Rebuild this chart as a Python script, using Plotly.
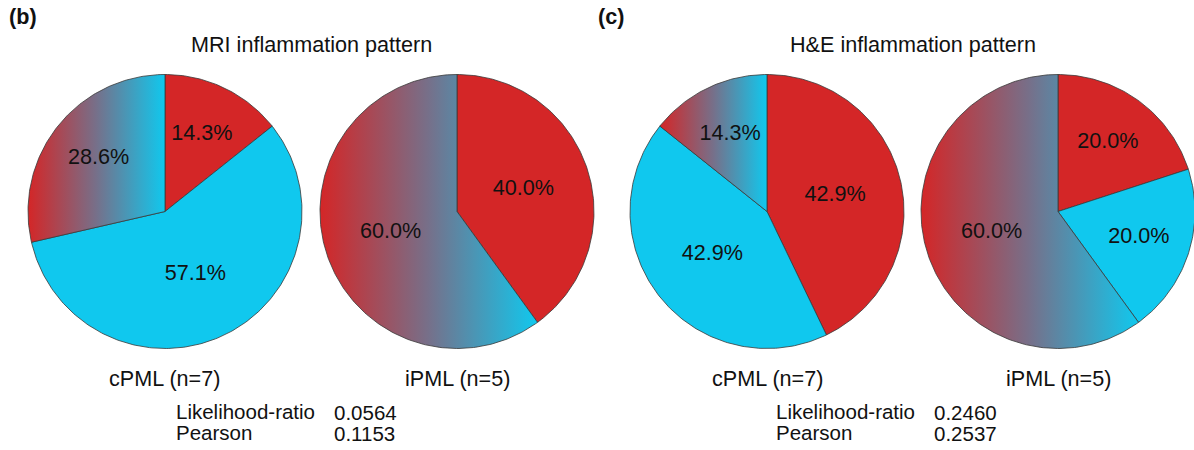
import numpy as np
import plotly.graph_objects as go

# Share of each inflammation pattern (%), per group: cPML, iPML
groups = ["cPML (n=7)", "iPML (n=5)"]
mri_focal = [14.3, 40.0]
mri_diffuse = [57.1, 0.0]
mri_mixed = [28.6, 60.0]
he_focal = [42.9, 20.0]
he_diffuse = [42.9, 20.0]
he_mixed = [14.3, 60.0]

panel_titles = ["MRI inflammation pattern", "H&E inflammation pattern"]
panel_tags = ["(b)", "(c)"]
stat_names = ["Likelihood-ratio", "Pearson"]
mri_pvalues = ["0.0564", "0.1153"]
he_pvalues = ["0.2460", "0.2537"]

RED = "#D42627"
CYAN = "#10C8EE"
EDGE = "#3a3a3a"
FONT = "Arial, Liberation Sans, sans-serif"
FS = 21.6

W, H = 1194, 450
R_PX = 137            # pie radius in pixels
PAD = 1.03            # axis half-range in radius units
CY_PX = 211.5
pie_centers_px = [165, 457, 767, 1058]

fig = go.Figure()


def slice_xy(a0, a1):
    """Polygon of a pie wedge, angles in degrees clockwise from 12 o'clock."""
    n = max(int(abs(a1 - a0) / 1.0), 2)
    t = np.radians(np.linspace(a0, a1, n))
    xs = np.concatenate([[0.0], np.sin(t), [0.0]])
    ys = np.concatenate([[0.0], np.cos(t), [0.0]])
    return xs, ys


pies = [
    (mri_focal[0], mri_diffuse[0], mri_mixed[0]),
    (mri_focal[1], mri_diffuse[1], mri_mixed[1]),
    (he_focal[0], he_diffuse[0], he_mixed[0]),
    (he_focal[1], he_diffuse[1], he_mixed[1]),
]

for i, (vals, cx) in enumerate(zip(pies, pie_centers_px)):
    k = i + 1
    xa = "x" if k == 1 else f"x{k}"
    ya = "y" if k == 1 else f"y{k}"
    total = sum(vals)
    start = 0.0
    lab_x, lab_y, lab_t = [], [], []
    for j, v in enumerate(vals):
        if v <= 0:
            continue
        span = 360.0 * v / total
        xs, ys = slice_xy(start, start + span)
        tr = dict(x=xs, y=ys, mode="lines", fill="toself",
                  line=dict(color=EDGE, width=0.8),
                  hoverinfo="skip", showlegend=False, xaxis=xa, yaxis=ya)
        if j == 0:
            tr["fillcolor"] = RED
        elif j == 1:
            tr["fillcolor"] = CYAN
        else:
            tr["fillgradient"] = dict(
                type="horizontal",
                colorscale=[[0, RED], [0.5, "#76708a"], [1, CYAN]],
            )
        fig.add_trace(go.Scatter(**tr))
        mid = np.radians(start + span / 2)
        rf = 0.62 if v < 35 else 0.51
        lab_x.append(rf * np.sin(mid))
        lab_y.append(rf * np.cos(mid))
        lab_t.append(f"{v:.1f}%")
        start += span
    fig.add_trace(go.Scatter(x=lab_x, y=lab_y, text=lab_t, mode="text",
                             textfont=dict(family=FONT, size=FS, color="#111"),
                             hoverinfo="skip", showlegend=False,
                             xaxis=xa, yaxis=ya))

    # Subplot box around the pie, clamped to the page; axis ranges keep 1 unit = R_PX
    half = PAD * R_PX
    x0, x1 = max(cx - half, 0), min(cx + half, W)
    cyb = H - CY_PX
    y0, y1 = max(cyb - half, 0), min(cyb + half, H)
    xd = [x0 / W, x1 / W]
    yd = [y0 / H, y1 / H]
    xr = [(x0 - cx) / R_PX, (x1 - cx) / R_PX]
    yr = [(y0 - cyb) / R_PX, (y1 - cyb) / R_PX]
    sfx = "" if k == 1 else str(k)
    fig.layout[f"xaxis{sfx}"] = dict(domain=xd, anchor=ya, range=xr,
                                     visible=False, fixedrange=True)
    fig.layout[f"yaxis{sfx}"] = dict(domain=yd, anchor=xa, range=yr,
                                     visible=False, fixedrange=True)

annotations = []


def px_note(text, x, y, size=FS, xanchor="center", bold=False):
    annotations.append(dict(
        text=f"<b>{text}</b>" if bold else text,
        x=x / W, y=1 - y / H, xref="paper", yref="paper",
        xanchor=xanchor, yanchor="middle", showarrow=False,
        font=dict(family=FONT, size=size, color="#111")))


# Panel tags and titles
px_note(panel_tags[0], 7, 16, xanchor="left", bold=True)
px_note(panel_tags[1], 596, 16, xanchor="left", bold=True)
px_note(panel_titles[0], (pie_centers_px[0] + pie_centers_px[1]) / 2, 45)
px_note(panel_titles[1], (pie_centers_px[2] + pie_centers_px[3]) / 2, 45)

# Group captions under each pie
for i, cx in enumerate(pie_centers_px):
    px_note(groups[i % 2], cx, 378)

# Test statistics blocks
for left, pvals in [(174, mri_pvalues), (774, he_pvalues)]:
    for row, (name, pv) in enumerate(zip(stat_names, pvals)):
        y = 411 + 21 * row
        px_note(name, left, y, size=20.5, xanchor="left")
        px_note(pv, left + 158, y + 1, size=20.5, xanchor="left")

fig.update_layout(
    width=W, height=H,
    margin=dict(l=0, r=0, t=0, b=0),
    paper_bgcolor="white", plot_bgcolor="rgba(0,0,0,0)",
    annotations=annotations,
    showlegend=False,
)

fig.write_html("out.html", config={"displayModeBar": False})
